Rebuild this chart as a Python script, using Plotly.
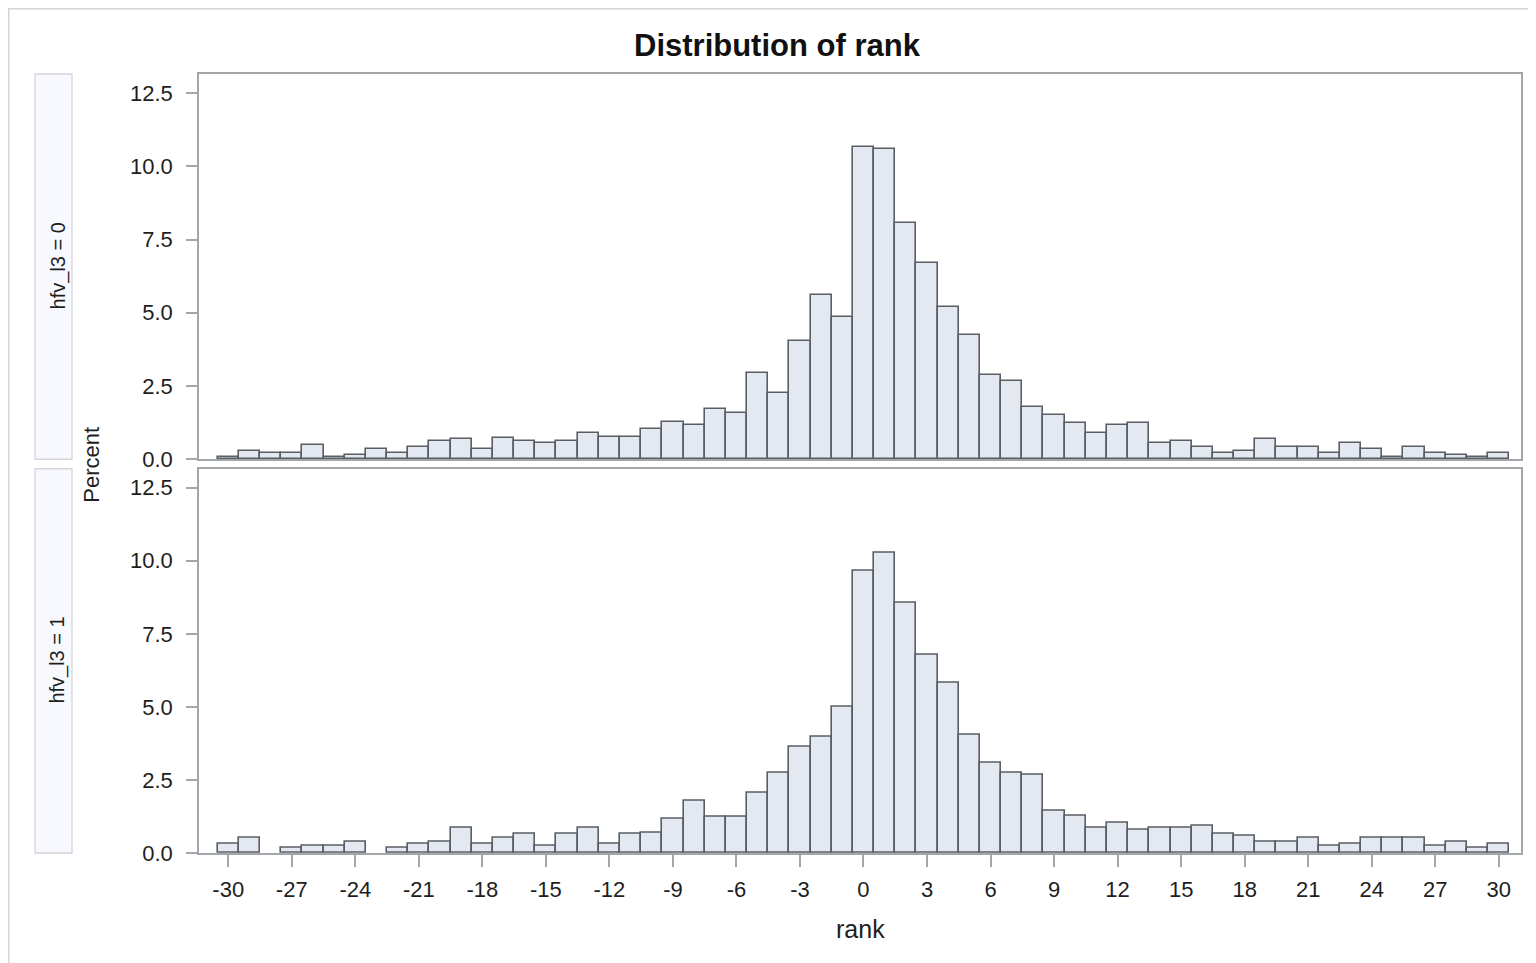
import plotly.graph_objects as go

ranks = list(range(-30, 31))

pct_hfv0 = [0.06, 0.28, 0.20, 0.20, 0.47, 0.07, 0.14, 0.34, 0.20, 0.41,
            0.62, 0.68, 0.34, 0.74, 0.62, 0.55, 0.62, 0.89, 0.75, 0.75,
            1.02, 1.28, 1.16, 1.70, 1.57, 2.93, 2.25, 4.03, 5.60, 4.84,
            10.67, 10.59, 8.06, 6.70, 5.19, 4.23, 2.86, 2.66, 1.78, 1.51,
            1.25, 0.91, 1.16, 1.24, 0.56, 0.62, 0.41, 0.20, 0.28, 0.68,
            0.41, 0.41, 0.20, 0.56, 0.34, 0.07, 0.41, 0.20, 0.14, 0.07, 0.20]

pct_hfv1 = [0.32, 0.52, 0.00, 0.18, 0.25, 0.25, 0.40, 0.00, 0.18, 0.32,
            0.40, 0.86, 0.32, 0.52, 0.67, 0.25, 0.67, 0.86, 0.32, 0.67,
            0.68, 1.16, 1.78, 1.24, 1.24, 2.07, 2.75, 3.63, 3.97, 5.02,
            9.65, 10.27, 8.57, 6.78, 5.82, 4.05, 3.10, 2.75, 2.67, 1.44,
            1.28, 0.87, 1.02, 0.81, 0.87, 0.87, 0.94, 0.67, 0.59, 0.40,
            0.40, 0.52, 0.25, 0.32, 0.52, 0.52, 0.52, 0.25, 0.40, 0.18, 0.32]

x_ticks = list(range(-30, 31, 3))
x_tick_text = [str(v) for v in x_ticks]  # plain hyphen-minus
y_ticks = [0, 2.5, 5.0, 7.5, 10.0, 12.5]
y_tick_text = ["0.0", "2.5", "5.0", "7.5", "10.0", "12.5"]
panel_labels = ["hfv_l3 = 0", "hfv_l3 = 1"]

FONT = "Liberation Sans, Arial, sans-serif"
FILL = "#e3e8f1"
EDGE = "#595d64"
AXIS = "#a3a7ac"
TXT = "#1e1e1e"

OFF = 8  # page body margin
W, H = 1528, 955
PL, PR, PT, PB = 199, 1521, 74, 853.5  # plot area in page pixels
ML = PL - OFF
MT = PT - OFF
MR = W - (PR - OFF)
MB = H - (PB - OFF)
pw = W - ML - MR
ph = H - MT - MB


def px_x(p):
    return (p - OFF - ML) / pw


def px_y(p):
    return (H - MB - (p - OFF)) / ph


fig = go.Figure()
for i, vals in enumerate([pct_hfv0, pct_hfv1]):
    yv = [v if v > 0 else None for v in vals]
    fig.add_trace(go.Bar(
        x=ranks, y=yv, width=1.0,
        marker=dict(color=FILL, line=dict(color=EDGE, width=1.6)),
        xaxis="x" if i == 0 else "x2", yaxis="y" if i == 0 else "y2",
        showlegend=False, hoverinfo="x+y"))

top_dom = [px_y(459.5), 1.0]
bot_dom = [0.0, px_y(469)]
xrange = [-31.38, 31.05]
yrange = [0, 13.15]

tickfont = dict(family=FONT, size=22, color=TXT)
common_x = dict(range=xrange, showline=True, mirror=True, linecolor=AXIS,
                linewidth=1.5, showgrid=False, zeroline=False,
                tickvals=x_ticks, ticktext=x_tick_text, ticks="outside", ticklen=12,
                tickwidth=1.5, tickcolor=AXIS, tickfont=tickfont)
common_y = dict(range=yrange, showline=True, mirror=True, linecolor=AXIS,
                linewidth=1.5, showgrid=False, zeroline=False,
                tickvals=y_ticks, ticktext=y_tick_text, ticks="outside", ticklen=11,
                tickwidth=1.5, tickcolor=AXIS, tickfont=tickfont, ticklabelstandoff=9)

fig.update_layout(
    width=W, height=H,
    margin=dict(l=ML, r=MR, t=MT, b=MB),
    paper_bgcolor="white", plot_bgcolor="white",
    bargap=0,
    xaxis=dict(common_x, anchor="y", showticklabels=False, ticks=""),
    yaxis=dict(common_y, domain=top_dom, anchor="x"),
    xaxis2=dict(common_x, anchor="y2", ticklabelstandoff=4),
    yaxis2=dict(common_y, domain=bot_dom, anchor="x2"),
)

shapes = []
# outer border
shapes.append(dict(type="rect", xref="paper", yref="paper",
                   x0=px_x(8.7), x1=px_x(1600), y0=px_y(1010), y1=px_y(8.7),
                   line=dict(color="#d4d4d4", width=1.5), fillcolor="rgba(0,0,0,0)", layer="below"))
# strip boxes
for (ytop, ybot) in [(74, 459.5), (469, 853.5)]:
    shapes.append(dict(type="rect", xref="paper", yref="paper",
                       x0=px_x(35), x1=px_x(72), y0=px_y(ybot), y1=px_y(ytop),
                       line=dict(color="#d2d5da", width=1.3), fillcolor="#f8f9fe", layer="below"))
fig.update_layout(shapes=shapes)

annotations = [
    dict(text="<b>Distribution of rank</b>", xref="paper", yref="paper",
         x=px_x(777), y=px_y(45), showarrow=False,
         font=dict(family=FONT, size=31, color="#111"), xanchor="center", yanchor="middle"),
    dict(text="Percent", xref="paper", yref="paper", x=px_x(92), y=px_y(465),
         showarrow=False, textangle=-90, font=dict(family=FONT, size=22, color=TXT),
         xanchor="center", yanchor="middle"),
    dict(text="rank", xref="paper", yref="paper", x=px_x(860), y=px_y(930),
         showarrow=False, font=dict(family=FONT, size=25, color=TXT),
         xanchor="center", yanchor="middle"),
]
for lab, yc in zip(panel_labels, [266.5, 661]):
    annotations.append(dict(text=lab, xref="paper", yref="paper", x=px_x(58), y=px_y(yc),
                            showarrow=False, textangle=-90,
                            font=dict(family=FONT, size=20, color=TXT),
                            xanchor="center", yanchor="middle"))
fig.update_layout(annotations=annotations)

fig.write_html("out.html")
